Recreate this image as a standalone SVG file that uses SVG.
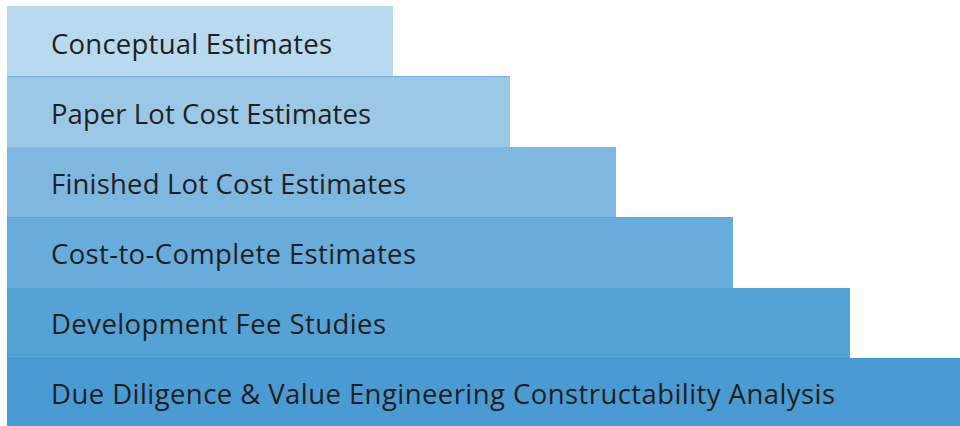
<svg xmlns="http://www.w3.org/2000/svg" width="960" height="426" viewBox="0 0 960 426">
<style>
.lbl{font-family:"Open Sans","Noto Sans","Liberation Sans",sans-serif;font-size:27.5px;fill:#231f20}
.sep{stroke-width:1;fill:none}
</style>
<rect width="960" height="426" fill="#ffffff"/>
<g id="bar1"><rect x="7" y="6" width="386" height="70" fill="#b9d9ee"/><text class="lbl" x="51" y="54" textLength="281">Conceptual Estimates</text></g>
<g id="bar2"><rect x="7" y="76" width="503" height="71" fill="#9cc8e7"/><text class="lbl" x="51" y="124" textLength="320">Paper Lot Cost Estimates</text></g>
<g id="bar3"><rect x="7" y="147" width="609" height="70" fill="#7eb7e0"/><text class="lbl" x="51" y="194" textLength="355">Finished Lot Cost Estimates</text></g>
<g id="bar4"><rect x="7" y="217" width="726" height="71" fill="#68acdb"/><text class="lbl" x="51" y="264" textLength="365">Cost-to-Complete Estimates</text></g>
<g id="bar5"><rect x="7" y="288" width="843" height="70" fill="#55a2d6"/><text class="lbl" x="51" y="334" textLength="335">Development Fee Studies</text></g>
<g id="bar6"><rect x="7" y="358" width="953" height="68" fill="#4a9bd3"/><text class="lbl" x="51" y="404" textLength="784">Due Diligence &amp; Value Engineering Constructability Analysis</text></g>
<g id="separators">
<line class="sep" x1="7" y1="76.5" x2="510" y2="76.5" stroke="#72b1e0"/>
<line class="sep" x1="7" y1="217.5" x2="733" y2="217.5" stroke="#5aa3d8"/>
<line class="sep" x1="7" y1="358.5" x2="960" y2="358.5" stroke="#3f93cf"/>
</g>
</svg>
